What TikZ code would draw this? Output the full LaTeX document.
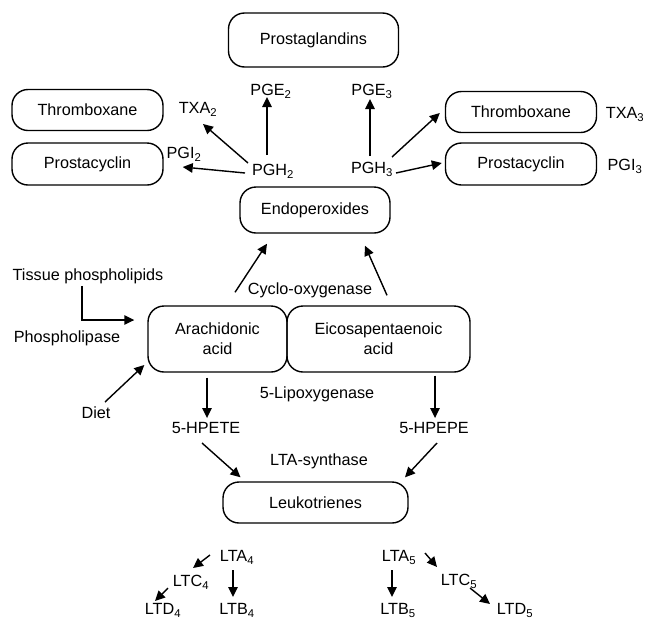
\documentclass[tikz,border=0pt]{standalone}
\usepackage{fontspec}
\setmainfont{Liberation Sans}
\usetikzlibrary{arrows.meta,calc}
\begin{document}
\begin{tikzpicture}[x=1pt,y=-1pt,
  every node/.style={font=\fontsize{16.2}{20}\selectfont},
  box/.style={draw,line width=1.4pt,rounded corners=16pt,minimum width=151pt,minimum height=41pt,align=center,inner sep=0pt},
  lbl/.style={inner sep=1pt,text height=11.5pt,text depth=0pt},
  arr/.style={-{Triangle[length=10pt,width=9.5pt]},line width=1.4pt}]
\useasboundingbox (0,0) rectangle (647,619);
% boxes
\node[box,minimum width=170pt,minimum height=54pt] (pg) at (313.5,40) {Prostaglandins};
\node[box] (thxL) at (87.5,110) {Thromboxane};
\node[box,minimum height=42pt] (pcL) at (87.5,164) {Prostacyclin};
\node[box] (thxR) at (521,112) {Thromboxane};
\node[box,minimum height=42pt] (pcR) at (521,164) {Prostacyclin};
\node[box,minimum width=150pt,minimum height=46pt] (endo) at (315,210) {Endoperoxides};
\node[box,minimum width=139pt,minimum height=66pt] (ara) at (217.5,339) {Arachidonic\\acid};
\node[box,minimum width=183pt,minimum height=66pt] (epa) at (378.5,339) {Eicosapentaenoic\\acid};
\node[box,minimum width=185pt,minimum height=41pt] (leu) at (315.5,502.5) {Leukotrienes};
% labels
\node[lbl] (txa2) at (198,108) {TXA\textsubscript{2}};
\node[lbl] (pgi2) at (184,153) {PGI\textsubscript{2}};
\node[lbl] (pge2) at (271,90) {PGE\textsubscript{2}};
\node[lbl] (pgh2) at (273,170) {PGH\textsubscript{2}};
\node[lbl] (pge3) at (372,90) {PGE\textsubscript{3}};
\node[lbl] (pgh3) at (372,168) {PGH\textsubscript{3}};
\node[lbl] (txa3) at (625,113) {TXA\textsubscript{3}};
\node[lbl] (pgi3) at (625,165) {PGI\textsubscript{3}};
\node[lbl] (tissue) at (88,275) {Tissue phospholipids};
\node[lbl] (plase) at (67,337) {Phospholipase};
\node[lbl] (diet) at (96,413) {Diet};
\node[lbl] (cox) at (310,289) {Cyclo-oxygenase};
\node[lbl] (lox) at (317,393) {5-Lipoxygenase};
\node[lbl] (hpete) at (206,428) {5-HPETE};
\node[lbl] (hpepe) at (434,428) {5-HPEPE};
\node[lbl] (ltas) at (319,460) {LTA-synthase};
\node[lbl] (lta4) at (237,556) {LTA\textsubscript{4}};
\node[lbl] (ltc4) at (191,581) {LTC\textsubscript{4}};
\node[lbl] (ltd4) at (163,609) {LTD\textsubscript{4}};
\node[lbl] (ltb4) at (237,609) {LTB\textsubscript{4}};
\node[lbl] (lta5) at (399,556) {LTA\textsubscript{5}};
\node[lbl] (ltc5) at (459,580) {LTC\textsubscript{5}};
\node[lbl] (ltb5) at (398,609) {LTB\textsubscript{5}};
\node[lbl] (ltd5) at (515,609) {LTD\textsubscript{5}};
% arrows, top
\draw[arr] ($(pgh2)+(-6,-15)$) -- ($(pge2)+(-4,7)$);
\draw[arr] ($(pgh2)+(-25,-7)$) -- ($(txa2)+(5,16)$);
\draw[arr] ($(pgh2)+(-28,3)$) -- ($(pcL.east)+(19,3)$);
\draw[arr] ($(pgh3)+(-2,-12)$) -- ($(pge3)+(-2,9)$);
\draw[arr] ($(pgh3)+(20,-11)$) -- ($(thxR.west)+(-5,1)$);
\draw[arr] ($(pgh3)+(24,5)$) -- ($(pcR.west)+(-3,-1)$);
% cyclo-oxygenase
\draw[arr] ($(ara.north)+(17.5,-13)$) -- ($(endo.south)+(-48,10)$);
\draw[arr] ($(epa.north)+(8.5,-10)$) -- ($(endo.south)+(50,12)$);
% inputs
\draw[arr] ($(tissue.south)+(-6,4)$) |- ($(ara.west)+(-13,-19)$);
\draw[arr] ($(diet)+(9,-11)$) -- ($(ara.west)+(-3,26)$);
% lipoxygenase
\draw[arr] ($(ara.south)+(-10.5,5)$) -- ($(hpete.north)+(1,-3)$);
\draw[arr] ($(epa.south)+(56.5,3)$) -- ($(hpepe.north)+(1,-3)$);
% LTA-synthase
\draw[arr] ($(hpete)+(-4,15)$) -- ($(leu.north)+(-75,-4)$);
\draw[arr] ($(hpepe)+(3,15)$) -- ($(leu.north)+(89.5,-4)$);
% bottom
\draw[arr] ($(lta4)+(-27,-1)$) -- ($(ltc4)+(2,-13)$);
\draw[arr] ($(ltc4)+(-23,7)$) -- ($(ltd4)+(-8,-8)$);
\draw[arr] ($(lta4)+(-4,14)$) -- ($(ltb4)+(-4,-12)$);
\draw[arr] ($(lta5)+(26,-3)$) -- ($(ltc5)+(-22,-13)$);
\draw[arr] ($(lta5)+(-7,14)$) -- ($(ltb5)+(-6,-12)$);
\draw[arr] ($(ltc5)+(11,8)$) -- ($(ltd5)+(-25,-5)$);
\end{tikzpicture}
\end{document}
